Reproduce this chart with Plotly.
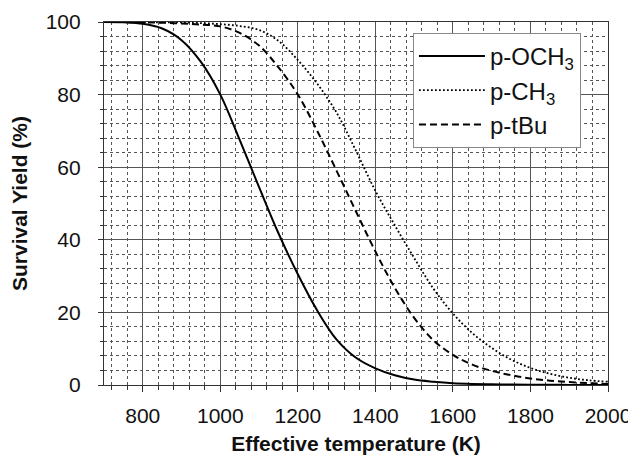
import plotly.graph_objects as go

# Effective temperature (K)
temp = [700, 750, 800, 850, 900, 950, 1000, 1050, 1100, 1150, 1200, 1250, 1300, 1350, 1400, 1450,
        1500, 1550, 1600, 1650, 1700, 1750, 1800, 1850, 1900, 1950, 2000]
# Survival yield (%)
yield_och3 = [100, 99.9, 99.5, 98.2, 95, 89, 80, 67.5, 54.5, 41.8, 30.5, 20.5, 12.5, 7.5, 4.6, 2.7,
              1.5, 0.9, 0.5, 0.3, 0.2, 0.12, 0.08, 0.05, 0.03, 0.02, 0.01]
yield_ch3 = [100, 100, 100, 99.9, 99.9, 99.7, 99.4, 98.9, 97.8, 94.8, 89.5, 83, 75, 64.5, 53.5, 44,
             35, 26.5, 19.7, 14.3, 10.2, 7, 4.7, 3.1, 2.0, 1.3, 0.9]
yield_tbu = [100, 100, 99.9, 99.8, 99.6, 99.3, 98.8, 97, 93.5, 87.5, 80, 70, 59, 47.8, 36.8, 26.8,
             18.5, 12.3, 8.3, 5.6, 3.9, 2.7, 1.8, 1.2, 0.8, 0.5, 0.3]

x_ticks = [800, 1000, 1200, 1400, 1600, 1800, 2000]
y_ticks = [0, 20, 40, 60, 80, 100]

FONT = "Liberation Sans, Arial, sans-serif"

fig = go.Figure()
fig.add_trace(go.Scatter(x=temp, y=yield_och3, mode="lines", name="p-OCH<sub>3</sub>",
                         line=dict(color="black", width=2, shape="spline", smoothing=1.0)))
fig.add_trace(go.Scatter(x=temp, y=yield_ch3, mode="lines", name="p-CH<sub>3</sub>",
                         line=dict(color="black", width=1.8, dash="1.8px,2.2px", shape="spline", smoothing=1.0)))
fig.add_trace(go.Scatter(x=temp, y=yield_tbu, mode="lines", name="p-tBu",
                         line=dict(color="black", width=2, dash="7px,4px", shape="spline", smoothing=1.0)))

fig.update_layout(
    width=636, height=466,
    margin=dict(l=96, r=36, t=14, b=89),
    paper_bgcolor="white", plot_bgcolor="white",
    font=dict(family=FONT, size=21, color="#111"),
    showlegend=True,
    legend=dict(x=0.613, y=0.97, xanchor="left", yanchor="top",
                bgcolor="white", bordercolor="#888", borderwidth=1,
                font=dict(family=FONT, size=24, color="#111"),
                itemwidth=66, tracegroupgap=0),
)
fig.update_xaxes(
    range=[700, 2000], tickvals=x_ticks, ticktext=[str(v) for v in x_ticks],
    automargin=False,
    showline=True, linecolor="#333", linewidth=1.2, mirror=True,
    showgrid=True, gridcolor="#555", gridwidth=1.2,
    ticks="outside", ticklen=6, tickcolor="#333", tickwidth=1.2,
    zeroline=False,
    minor=dict(dtick=40, tick0=0, showgrid=True, gridcolor="#555", griddash="dot", gridwidth=1,
               ticks="outside", ticklen=4, tickcolor="#333"),
    ticklabelstandoff=6,
    title=dict(text="<b>Effective temperature (K)</b>", font=dict(family=FONT, size=21, color="#111"), standoff=10),
)
fig.update_yaxes(
    range=[0, 100], tickvals=y_ticks, ticktext=[str(v) for v in y_ticks],
    automargin=False,
    showline=True, linecolor="#333", linewidth=1.2, mirror=True,
    showgrid=True, gridcolor="#555", gridwidth=1.2,
    ticks="outside", ticklen=5, tickcolor="#333", tickwidth=1.2,
    zeroline=False,
    minor=dict(dtick=4, tick0=0, showgrid=True, gridcolor="#555", griddash="dot", gridwidth=1,
               ticks="outside", ticklen=3, tickcolor="#333"),
    ticklabelstandoff=13,
    title=dict(text="<b>Survival Yield (%)</b>", font=dict(family=FONT, size=21, color="#111"), standoff=12),
)

fig.write_html("out.html")
